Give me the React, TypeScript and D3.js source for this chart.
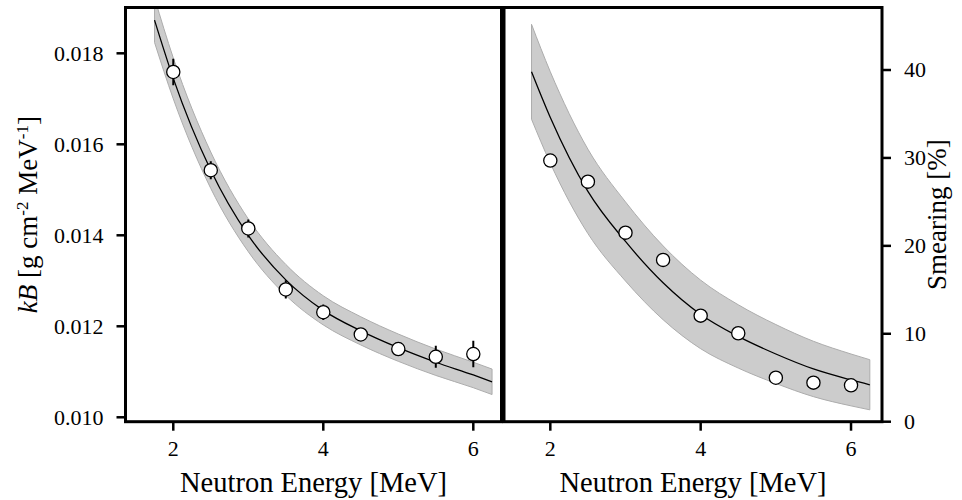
import React from 'react';
import * as d3 from 'd3';

// measured points
const energies = [2, 2.5, 3, 3.5, 4, 4.5, 5, 5.5, 6];
const kbValues = [0.01759, 0.01543, 0.01415, 0.01281, 0.01231, 0.01182, 0.0115, 0.01133, 0.01139];
const kbErrors = [0.00029, 0.0002, 0.0002, 0.0002, 0.00017, 0.00012, 0.00012, 0.00024, 0.00029];
const smearValues = [29.7, 27.3, 21.5, 18.4, 12.06, 10.06, 5.0, 4.44, 4.14];

// fit curves and their bands
const fitEnergies = [1.75, 2, 2.5, 3, 3.5, 4, 4.5, 5, 5.5, 6, 6.25];
const kbFit = [0.01873, 0.01745, 0.01543, 0.014, 0.01302, 0.01235, 0.0119, 0.01153, 0.01121, 0.01093, 0.01078];
const kbFitHigh = [0.01922, 0.0179, 0.01583, 0.01436, 0.01336, 0.01267, 0.01221, 0.01183, 0.0115, 0.01121, 0.01106];
const kbFitLow = [0.01824, 0.017, 0.01503, 0.01364, 0.01268, 0.01203, 0.01159, 0.01123, 0.01092, 0.01065, 0.0105];
const smearFit = [39.8, 34.6, 26.2, 20.5, 15.8, 12.2, 9.7, 7.7, 6.0, 4.75, 4.2];
const smearFitHigh = [45.2, 39.8, 31.0, 25.0, 20.0, 16.1, 13.3, 11.05, 9.15, 7.7, 7.05];
const smearFitLow = [34.4, 29.4, 21.4, 16.0, 11.6, 8.3, 6.1, 4.35, 2.85, 1.8, 1.35];

const xTicks = [2, 4, 6];
const kbTicks = [0.01, 0.012, 0.014, 0.016, 0.018];
const smearTicks = [0, 10, 20, 30, 40];

const FONT = 'Liberation Serif, Times New Roman, Times, DejaVu Serif, serif';
const top = 7.5;
const bottom = 421.7;

type PanelProps = {
  left: number;
  right: number;
  xDomain: [number, number];
  yDomain: [number, number];
  yTicks: number[];
  yFormat: (v: number) => string;
  axisSide: 'left' | 'right';
  values: number[];
  errors?: number[];
  fit: number[];
  fitLow: number[];
  fitHigh: number[];
  clipId: string;
};

const Panel = (p: PanelProps) => {
  const x = d3.scaleLinear().domain(p.xDomain).range([p.left, p.right]);
  const y = d3.scaleLinear().domain(p.yDomain).range([bottom, top]);

  const area = d3.area<number>()
    .x((_, i) => x(fitEnergies[i]))
    .y0((_, i) => y(p.fitLow[i]))
    .y1((_, i) => y(p.fitHigh[i]))
    .curve(d3.curveMonotoneX);
  const line = d3.line<number>()
    .x((_, i) => x(fitEnergies[i]))
    .y(d => y(d))
    .curve(d3.curveMonotoneX);

  const axisX = p.axisSide === 'left' ? p.left : p.right;
  const dir = p.axisSide === 'left' ? -1 : 1;

  return (
    <g>
      <defs>
        <clipPath id={p.clipId}>
          <rect x={p.left} y={top} width={p.right - p.left} height={bottom - top} />
        </clipPath>
      </defs>
      <g clipPath={`url(#${p.clipId})`}>
        <path d={area(p.fit) || ''} fill="#cccccc" stroke="#acacac" strokeWidth={1} />
        <path d={line(p.fit) || ''} fill="none" stroke="#000" strokeWidth={1.3} />
        {p.errors && energies.map((e, i) => (
          <line key={'e' + i} x1={x(e)} x2={x(e)}
            y1={y(p.values[i] - p.errors![i])} y2={y(p.values[i] + p.errors![i])}
            stroke="#000" strokeWidth={2} />
        ))}
        {energies.map((e, i) => (
          <circle key={'c' + i} cx={x(e)} cy={y(p.values[i])} r={6.6}
            fill="#fff" stroke="#000" strokeWidth={1.3} />
        ))}
      </g>
      <rect x={p.left} y={top} width={p.right - p.left} height={bottom - top}
        fill="none" stroke="#000" strokeWidth={3} />
      {xTicks.map(t => (
        <g key={'x' + t}>
          <line x1={x(t)} x2={x(t)} y1={bottom} y2={bottom + 9} stroke="#000" strokeWidth={2.5} />
          <text x={x(t)} y={456} textAnchor="middle" fontSize={22} fontFamily={FONT}>{t}</text>
        </g>
      ))}
      {p.yTicks.map(t => (
        <g key={'y' + t}>
          <line x1={axisX} x2={axisX + dir * 9} y1={y(t)} y2={y(t)} stroke="#000" strokeWidth={2.5} />
          <text x={axisX + dir * 22} y={y(t)} dy="0.34em"
            textAnchor={p.axisSide === 'left' ? 'end' : 'start'}
            fontSize={22} fontFamily={FONT}>{p.yFormat(t)}</text>
        </g>
      ))}
      <text x={(p.left + p.right) / 2} y={492} textAnchor="middle" fontSize={28.5} fontFamily={FONT}>
        Neutron Energy [MeV]
      </text>
    </g>
  );
};

export default function App() {
  const midY = (top + bottom) / 2;
  return (
    <svg width={962} height={500} style={{ position: 'absolute', left: 0, top: 0, background: '#fff' }}>
      <Panel left={125.5} right={501.5} xDomain={[1.363, 6.376]} yDomain={[0.009903, 0.019007]}
        yTicks={kbTicks} yFormat={d3.format('.3f')} axisSide="left"
        values={kbValues} errors={kbErrors} fit={kbFit} fitLow={kbFitLow} fitHigh={kbFitHigh} clipId="clipA" />
      <Panel left={504} right={882} xDomain={[1.384, 6.412]} yDomain={[0, 47.11]}
        yTicks={smearTicks} yFormat={d3.format('d')} axisSide="right"
        values={smearValues} fit={smearFit} fitLow={smearFitLow} fitHigh={smearFitHigh} clipId="clipB" />
      <text transform={`translate(37,${midY}) rotate(-90)`} textAnchor="middle" fontSize={27} fontFamily={FONT}>
        <tspan fontStyle="italic">kB</tspan>
        <tspan> [g cm</tspan>
        <tspan fontSize={17} dy={-9}>-2</tspan>
        <tspan dy={9}> MeV</tspan>
        <tspan fontSize={17} dy={-9}>-1</tspan>
        <tspan dy={9}>]</tspan>
      </text>
      <text transform={`translate(946,${midY}) rotate(-90)`} textAnchor="middle" fontSize={27} fontFamily={FONT}>
        Smearing [%]
      </text>
    </svg>
  );
}
